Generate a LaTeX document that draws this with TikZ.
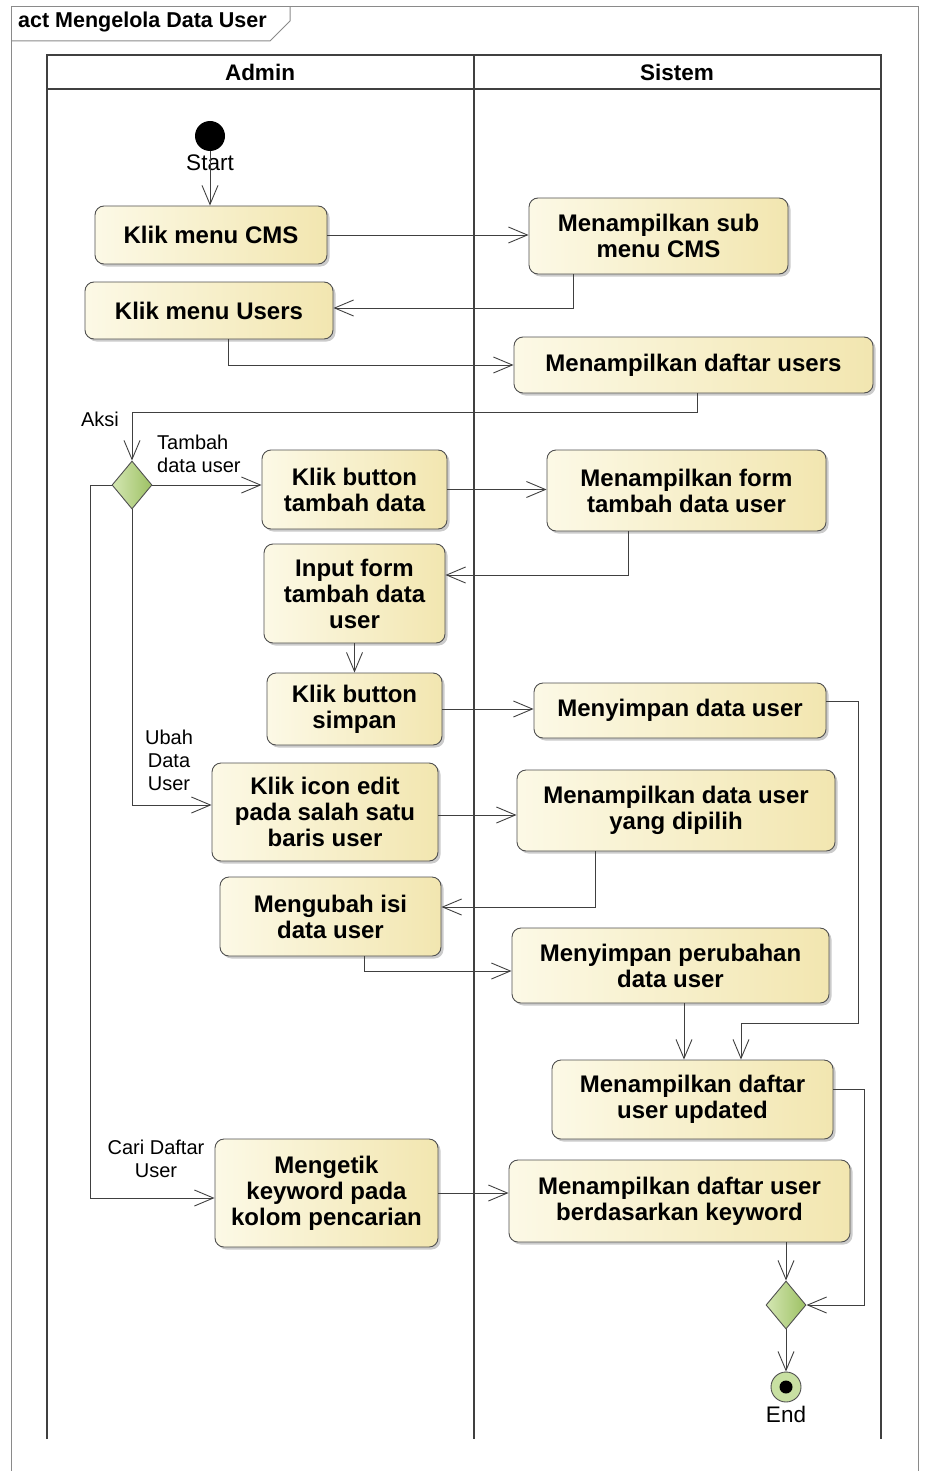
\documentclass[tikz,border=0pt]{standalone}
\usepackage{fontspec}
\setmainfont{Liberation Sans}
\usetikzlibrary{arrows.meta,shapes.geometric,shadows}
\definecolor{actL}{HTML}{FCF9E6}
\definecolor{actR}{HTML}{F2E6B0}
\definecolor{decL}{HTML}{D4E7B2}
\definecolor{decR}{HTML}{9DC064}
\definecolor{endfill}{HTML}{C8E0A2}
\definecolor{linegray}{HTML}{404040}
\definecolor{bordergray}{HTML}{505050}
\definecolor{framegray}{HTML}{8A8A8A}
\newcommand\nodefont{\fontsize{24}{26}\selectfont\bfseries}
\newcommand\labfont{\fontsize{20}{23}\selectfont}
\newcommand\headfont{\fontsize{22.5}{24}\selectfont\bfseries}
\newcommand\termfont{\fontsize{22.5}{24}\selectfont}
\tikzset{
  actbox/.style={draw=bordergray, line width=0.9pt, rounded corners=9pt,
    left color=actL, right color=actR, font=\nodefont, align=center,
    inner sep=0pt,
    drop shadow={shadow xshift=2.5pt, shadow yshift=-2.5pt, fill=black!45, opacity=0.45}},
  decbox/.style={diamond, draw=bordergray, line width=0.9pt, left color=decL, right color=decR,
    minimum width=40pt, minimum height=48pt, inner sep=0pt},
  flow/.style={draw=linegray, line width=0.9pt, -{Straight Barb[length=19pt,width=16pt,line width=0.9pt]}},
  lbl/.style={font=\labfont, align=center, inner sep=0pt},
  term/.style={font=\termfont, inner sep=0pt}
}
\begin{document}
\begin{tikzpicture}[x=1pt,y=-1pt]
\useasboundingbox (0,0) rectangle (925,1471);
% frame
\draw[framegray, line width=1pt] (11,1471) -- (11,7) -- (918,7) -- (918,1471);
\draw[framegray, line width=1pt] (11,41) -- (270,41) -- (290,21) -- (290,7);
\node[anchor=west, font=\fontsize{21.5}{23}\selectfont\bfseries, inner sep=0pt] (title) at (18,22) {act Mengelola Data User};
% lanes
\draw[linegray, line width=1.1pt] (47,1439) -- (47,55) -- (881,55) -- (881,1439);
\draw[linegray, line width=1.1pt] (47,89) -- (881,89);
\draw[linegray, line width=1.1pt] (474,55) -- (474,1439);
\node[font=\headfont] (hadmin) at (260,72) {Admin};
\node[font=\headfont] (hsistem) at (677,72) {Sistem};

% nodes
\node[circle, fill=black, minimum size=30pt, inner sep=0pt] (start) at (210,136) {};
\node[term] (startl) at (210,163) {Start};
\node[actbox, minimum width=232pt, minimum height=58pt] (cms) at (211,235) {Klik menu CMS};
\node[actbox, minimum width=259pt, minimum height=76pt] (sub) at (658.5,236) {Menampilkan sub\\menu CMS};
\node[actbox, minimum width=248pt, minimum height=57pt] (users) at (209,310.5) {Klik menu Users};
\node[actbox, minimum width=359pt, minimum height=56pt] (daftar) at (693.5,365) {Menampilkan daftar users};
\node[decbox] (dec) at (132,485) {};
\node[actbox, minimum width=185pt, minimum height=79pt] (tambah) at (354.5,489.5) {Klik button\\tambah data};
\node[actbox, minimum width=279pt, minimum height=81pt] (form) at (686.5,490.5) {Menampilkan form\\tambah data user};
\node[actbox, minimum width=181pt, minimum height=99pt] (input) at (354.5,593.5) {Input form\\tambah data\\user};
\node[actbox, minimum width=175pt, minimum height=72pt] (simpan) at (354.5,709) {Klik button\\simpan};
\node[actbox, minimum width=292pt, minimum height=55pt] (menyimpan) at (680,710.5) {Menyimpan data user};
\node[actbox, minimum width=226pt, minimum height=98pt] (edit) at (325,812) {Klik icon edit\\pada salah satu\\baris user};
\node[actbox, minimum width=318pt, minimum height=81pt] (dipilih) at (676,810.5) {Menampilkan data user\\yang dipilih};
\node[actbox, minimum width=221pt, minimum height=79pt] (ubah) at (330.5,916.5) {Mengubah isi\\data user};
\node[actbox, minimum width=317pt, minimum height=75pt] (perubahan) at (670.5,965.5) {Menyimpan perubahan\\data user};
\node[actbox, minimum width=281pt, minimum height=79pt] (updated) at (692.5,1099.5) {Menampilkan daftar\\user updated};
\node[actbox, minimum width=223pt, minimum height=108pt] (mengetik) at (326.5,1193) {Mengetik\\keyword pada\\kolom pencarian};
\node[actbox, minimum width=341pt, minimum height=82pt] (keyword) at (679.5,1201) {Menampilkan daftar user\\berdasarkan keyword};
\node[decbox] (merge) at (786,1305) {};
\node[circle, draw=bordergray, line width=0.9pt, fill=endfill, minimum size=30pt, inner sep=0pt] (end) at (786,1387) {};
\fill[black] (end.center) circle (6.5pt);
\node[term] (endl) at (786,1414) {End};

% labels
\node[lbl] (aksi) at (100,419) {Aksi};
\node[lbl, align=left, anchor=west] (ltambah) at (157,454) {Tambah\\data user};
\node[lbl] (lubah) at (169,760) {Ubah\\Data\\User};
\node[lbl] (lcari) at (156,1159) {Cari Daftar\\User};

% connectors
\draw[flow] (start.south) -- (start.south |- cms.north);
\draw[flow] (cms.east) -- (cms.east -| sub.west);
\draw[flow] ([xshift=-85.5pt]sub.south) |- ([yshift=2.5pt]users.east);
\draw[flow] ([xshift=19pt]users.south) |- (daftar.west);
\draw[flow] ([xshift=3.5pt]daftar.south) -- ++(0,19) -| (dec.north);
\draw[flow] (dec.east) -- (dec.east -| tambah.west);
\draw[flow] (tambah.east) -- (tambah.east -| form.west);
\draw[flow] ([xshift=-58.5pt]form.south) |- ([yshift=18.5pt]input.east);
\draw[flow] (input.south) -- (simpan.north);
\draw[flow] (simpan.east) -- (simpan.east -| menyimpan.west);
\draw[flow] ([yshift=9.5pt]menyimpan.east) -| (858,1023) -| ([xshift=48.5pt]updated.north);
\draw[flow] (dec.south) |- ([yshift=7pt]edit.west);
\draw[flow] ([yshift=-3pt]edit.east) -- ([yshift=-3pt]edit.east -| dipilih.west);
\draw[flow] ([xshift=-81pt]dipilih.south) |- ([yshift=9.5pt]ubah.east);
\draw[flow] ([xshift=33.5pt]ubah.south) |- ([yshift=-5.5pt]perubahan.west);
\draw[flow] ([xshift=13.5pt]perubahan.south) -- ([xshift=13.5pt]perubahan.south |- updated.north);
\draw[flow] (dec.west) -- ++(-21,0) |- ([yshift=-5pt]mengetik.west);
\draw[flow] (mengetik.east) -- (mengetik.east -| keyword.west);
\draw[flow] ([yshift=10.5pt]updated.east) -- ++(31,0) |- (merge.east);
\draw[flow] ([xshift=106.5pt]keyword.south) -- (merge.north);
\draw[flow] (merge.south) -- (end.north);
\end{tikzpicture}
\end{document}
